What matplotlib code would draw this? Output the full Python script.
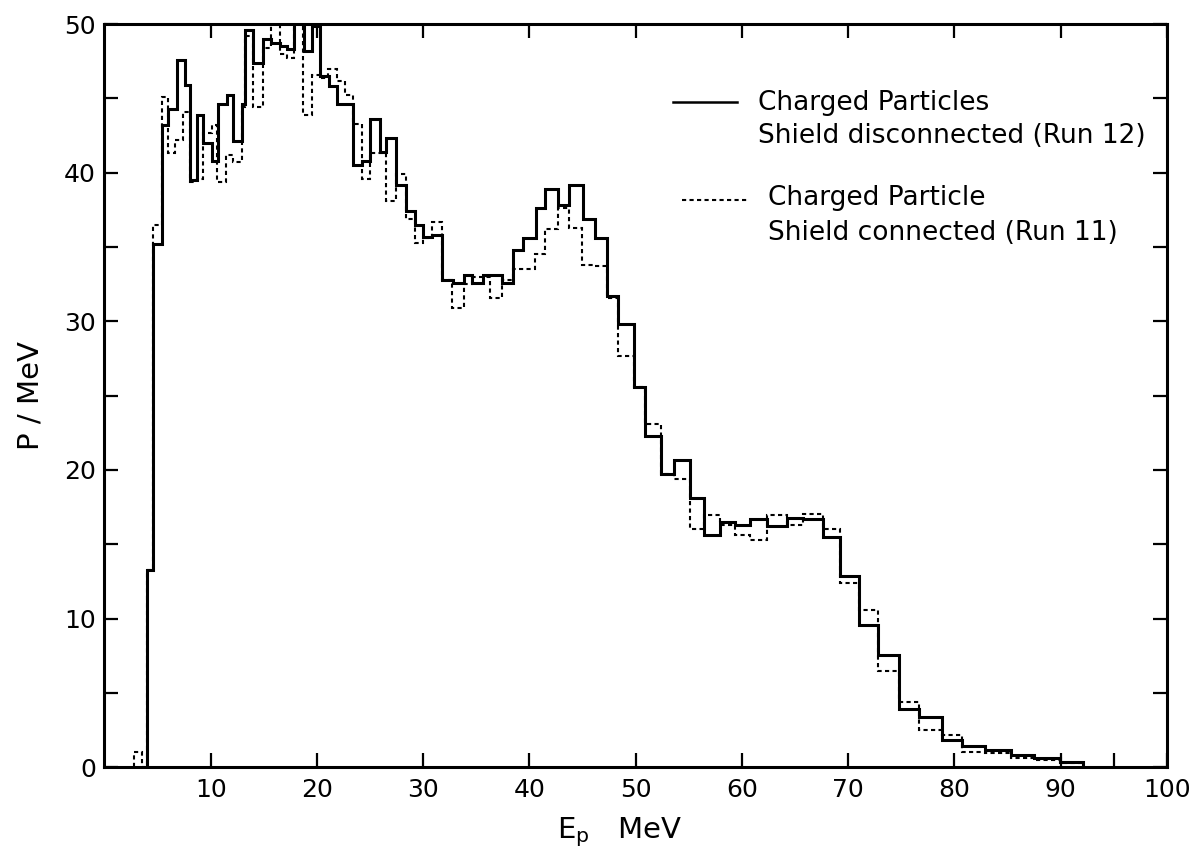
import matplotlib
matplotlib.use("Agg")
import matplotlib.pyplot as plt
from matplotlib.lines import Line2D

# ---- data ----
# Run 12: shield disconnected (solid)
edges_run12 = [3.98, 4.54, 5.45, 6.02, 6.80, 7.58, 8.05, 8.68, 9.31, 10.09, 10.72,
               11.50, 12.13, 12.91, 13.22, 14.00, 14.95, 15.70, 16.50, 17.20, 17.80,
               18.80, 19.50, 20.30, 21.10, 21.85, 23.42, 24.20, 24.98, 25.90, 26.50,
               27.40, 28.40, 29.20, 29.98, 30.80, 31.80, 32.80, 33.80, 34.55, 35.65,
               36.40, 37.40, 38.50, 39.40, 40.60, 41.50, 42.70, 43.70, 45.05, 46.15,
               47.30, 48.30, 49.85, 50.85, 52.35, 53.60, 55.08, 56.40, 57.97, 59.30,
               60.74, 62.40, 64.20, 65.75, 67.60, 69.20, 71.00, 72.80, 74.80, 76.70,
               78.80, 80.70, 82.90, 85.30, 87.50, 89.90, 92.10]
values_run12 = [13.3, 35.2, 43.2, 44.3, 47.6, 45.9, 39.5, 43.9, 42.0, 40.8,
                44.6, 45.2, 42.1, 44.6, 49.6, 47.4, 49.0, 48.7, 48.5, 48.3,
                51.0, 48.2, 49.9, 46.5, 45.8, 44.6, 40.5, 40.8, 43.6, 41.4,
                42.3, 39.2, 37.4, 36.5, 35.7, 35.8, 32.8, 32.6, 33.1, 32.6,
                33.1, 33.1, 32.6, 34.8, 35.6, 37.6, 38.9, 37.8, 39.2, 36.9,
                35.6, 31.7, 29.8, 25.6, 22.3, 19.7, 20.7, 18.1, 15.6, 16.5,
                16.3, 16.7, 16.2, 16.8, 16.7, 15.5, 12.9, 9.6, 7.55, 3.93,
                3.39, 1.85, 1.40, 1.17, 0.83, 0.65, 0.38]

# Run 11: shield connected (dashed)
edges_run11 = [2.75, 3.50, 3.98, 4.54, 5.40, 6.02, 6.64, 7.42, 8.05, 8.68, 9.31,
               10.09, 10.60, 11.44, 12.10, 12.91, 13.22, 14.00, 14.95, 15.70, 16.50,
               17.20, 17.80, 18.70, 19.50, 20.30, 21.05, 21.85, 22.60, 23.42, 24.20,
               24.98, 26.50, 27.40, 28.40, 29.20, 29.98, 30.80, 31.80, 32.75, 33.80,
               34.55, 35.65, 36.30, 37.40, 38.50, 40.55, 41.50, 42.70, 43.70, 44.95,
               46.15, 47.30, 48.30, 49.85, 50.85, 52.35, 53.60, 55.08, 56.40, 57.97,
               59.30, 60.74, 62.40, 64.20, 65.75, 67.60, 69.20, 71.00, 72.80, 74.80,
               76.70, 78.80, 80.70, 82.90, 85.30, 87.50, 89.90, 92.10]
values_run11 = [1.0, 0.0, 13.3, 36.5, 45.1, 41.3, 42.2, 44.1, 39.4, 39.6,
                42.7, 43.2, 39.4, 41.2, 40.7, 44.4, 49.2, 44.4, 48.4, 50.5,
                48.0, 47.7, 50.4, 43.9, 46.6, 46.4, 47.0, 46.2, 45.2, 43.3,
                39.6, 41.3, 38.1, 39.9, 36.9, 35.3, 35.6, 36.7, 32.8, 30.9,
                32.5, 33.0, 33.0, 31.6, 32.8, 33.5, 34.5, 36.2, 37.6, 36.3,
                33.8, 33.7, 31.6, 27.7, 25.6, 23.1, 19.7, 19.4, 16.0, 16.95,
                16.3, 15.6, 15.3, 16.95, 16.3, 17.05, 16.0, 12.4, 10.55, 6.5,
                4.4, 2.5, 2.2, 1.06, 0.95, 0.6, 0.5, 0.28]

x_ticks = [10, 20, 30, 40, 50, 60, 70, 80, 90, 100]
y_ticks = [0, 10, 20, 30, 40, 50]
label_run12 = ["Charged Particles", "Shield disconnected (Run 12)"]
label_run11 = ["Charged Particle", "Shield connected (Run 11)"]

# ---- figure ----
plt.rcParams['font.family'] = ['DejaVu Sans']
fig = plt.figure(figsize=(12.01, 8.52), dpi=100)
ax = fig.add_axes([0.0869, 0.0994, 0.8848, 0.8724])

ax.stairs(values_run12, edges_run12, baseline=0, color='black', lw=2.2)
ax.stairs(values_run11, edges_run11, baseline=0, color='black', lw=1.5,
          linestyle=(0, (2.0, 1.6)))

ax.set_xlim(0, 100)
ax.set_ylim(0, 50)

ax.set_xticks(x_ticks)
ax.set_xticklabels([str(t) for t in x_ticks])
ax.set_xticks([95], minor=True)
ax.set_yticks(y_ticks)
ax.set_yticks([5, 15, 25, 35, 45], minor=True)

ax.tick_params(axis='both', which='major', direction='in', length=10, width=1.6,
               labelsize=18, top=True, right=True)
ax.tick_params(axis='y', which='minor', direction='in', length=10, width=1.6,
               left=True, right=True)
ax.tick_params(axis='x', which='minor', direction='in', length=10, width=1.6,
               bottom=True, top=False)
ax.tick_params(axis='x', which='major', pad=8)
ax.tick_params(axis='y', which='major', pad=6)

for s in ax.spines.values():
    s.set_linewidth(2.2)

ax.set_xlabel(r"E$_\mathregular{p}$   MeV", fontsize=21, labelpad=4)
ax.xaxis.set_label_coords(0.485, -0.065)
ax.set_ylabel("P / MeV", fontsize=21, labelpad=14)

# legend (drawn as a key in axes coordinates)
ax.add_line(Line2D([0.535, 0.595], [0.895, 0.895], transform=ax.transAxes,
                   color='black', lw=1.8))
ax.text(0.6155, 0.894, label_run12[0], transform=ax.transAxes, fontsize=19,
        va='center', ha='left')
ax.text(0.6155, 0.850, label_run12[1], transform=ax.transAxes, fontsize=19,
        va='center', ha='left')
ax.add_line(Line2D([0.5436, 0.6057], [0.763, 0.763], transform=ax.transAxes,
                   color='black', lw=1.5, linestyle=(0, (2.0, 1.6))))
ax.text(0.6245, 0.766, label_run11[0], transform=ax.transAxes, fontsize=19,
        va='center', ha='left')
ax.text(0.6245, 0.719, label_run11[1], transform=ax.transAxes, fontsize=19,
        va='center', ha='left')

fig.savefig("out.png", dpi=100)
